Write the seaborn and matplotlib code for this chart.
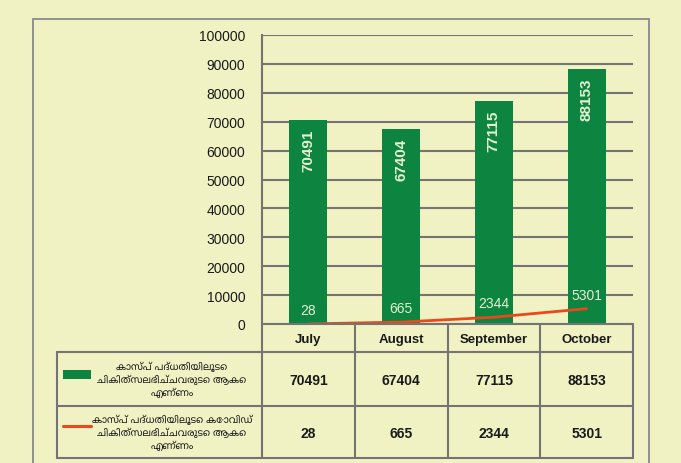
import matplotlib
matplotlib.use('Agg')
import matplotlib.pyplot as plt
import matplotlib.patches as mpatches
from matplotlib import font_manager
import numpy as np
import seaborn as sns

months = ['July', 'August', 'September', 'October']
total_treated = [70491, 67404, 77115, 88153]
covid_treated = [28, 665, 2344, 5301]
series_labels = [
	'കാസ്പ് പദ്ധതിയിലൂടെ\nചികിത്സലഭിച്ചവരുടെ ആകെ\nഎണ്ണം',
	'കാസ്പ് പദ്ധതിയിലൂടെ കോവിഡ്\nചികിത്സലഭിച്ചവരുടെ ആകെ\nഎണ്ണം',
]
y_ticks = [0, 10000, 20000, 30000, 40000, 50000, 60000, 70000, 80000, 90000, 100000]

BG = '#F0F2C4'
GREEN = '#0E8441'
RED = '#E8491D'
GRID = '#747474'
LABEL = '#E6F0D2'

sns.set_style('white')
installed = {f.name for f in font_manager.fontManager.ttflist}
base_font = 'Liberation Sans' if 'Liberation Sans' in installed else 'DejaVu Sans'
plt.rcParams['font.family'] = [base_font, 'DejaVu Sans']
ml_fonts = [f for f in ['Noto Sans Malayalam', 'Noto Serif Malayalam', 'Lohit Malayalam', 'Meera'] if f in installed]
ml_family = ml_fonts + [base_font, 'DejaVu Sans']

W, H = 681, 464
fig = plt.figure(figsize=(W / 100, H / 100), dpi=100, facecolor=BG)

def fx(px):
	return px / W

def fy(px):
	return 1 - px / H

# outer frame
fig.patches.append(mpatches.Rectangle((fx(33), fy(470)), fx(649) - fx(33), fy(20) - fy(470),
	transform=fig.transFigure, fill=False, edgecolor='#8a8a8a', linewidth=1.3))

# main chart
ax = fig.add_axes([fx(262), fy(325), fx(633) - fx(262), fy(36) - fy(325)])
ax.set_facecolor(BG)
sns.barplot(x=months, y=total_treated, color=GREEN, width=0.41, saturation=1,
	edgecolor='none', linewidth=0, ax=ax, zorder=3)
sns.lineplot(x=np.arange(len(months)), y=covid_treated, color=RED, linewidth=2, ax=ax, zorder=4)

ax.set_xlim(-0.5, len(months) - 0.5)
ax.set_ylim(0, 100000)
ax.set_yticks(y_ticks)
ax.set_yticklabels([str(v) for v in y_ticks], fontsize=10, color='#1a1a1a')
ax.set_xticks([])
ax.set_xlabel('')
ax.set_ylabel('')
ax.grid(axis='y', color=GRID, linewidth=1.5, zorder=0)
ax.set_axisbelow(True)
for side in ['top', 'right', 'bottom']:
	ax.spines[side].set_visible(False)
ax.spines['left'].set_color(GRID)
ax.spines['left'].set_linewidth(1.5)
ax.tick_params(axis='y', length=0, pad=12)

for i, v in enumerate(total_treated):
	ax.annotate(str(v), (i, v), xytext=(0, -6), textcoords='offset points',
		rotation=90, ha='center', va='top', color=LABEL, fontsize=11, fontweight='bold', zorder=5)
for i, v in enumerate(covid_treated):
	ax.annotate(str(v), (i, v), xytext=(0, 5), textcoords='offset points',
		ha='center', va='bottom', color=LABEL, fontsize=10, zorder=5)

# data table under the chart
tab = fig.add_axes([fx(57), fy(459), fx(633) - fx(57), fy(325) - fy(459)])
tab.set_facecolor('none')
unit = (633 - 262) / len(months)
left = -0.5 - (262 - 57) / unit
tab.set_xlim(left, len(months) - 0.5)
tab.set_ylim(134, 0)
tab.axis('off')
row_edges = [0, 28, 82, 134]
col_edges = [c - 0.5 for c in range(len(months) + 1)]
lw = 1.5
for c in col_edges:
	tab.plot([c, c], [0, 134], color=GRID, linewidth=lw, clip_on=False)
tab.plot([left, left], [28, 134], color=GRID, linewidth=lw, clip_on=False)
tab.plot([-0.5, col_edges[-1]], [0, 0], color=GRID, linewidth=lw, clip_on=False)
for r in row_edges[1:]:
	tab.plot([left, col_edges[-1]], [r, r], color=GRID, linewidth=lw, clip_on=False)

for i, m in enumerate(months):
	tab.text(i, 15, m, ha='center', va='center', fontsize=9.5, fontweight='bold', color='#1a1a1a')
for row, values in enumerate([total_treated, covid_treated]):
	yc = (row_edges[row + 1] + row_edges[row + 2]) / 2
	for i, v in enumerate(values):
		tab.text(i, yc + 1, str(v), ha='center', va='center', fontsize=10, fontweight='bold', color='#1a1a1a')
	tab.text(left + 1.24, yc, series_labels[row], ha='center', va='center', fontsize=7,
		fontweight='bold', color='#1a1a1a', family=ml_family, linespacing=1.3)

key_x0 = left + 6 / unit
key_w = 28 / unit
tab.add_patch(mpatches.Rectangle((key_x0, 46), key_w, 9, facecolor=GREEN, edgecolor='none'))
tab.plot([key_x0, key_x0 + key_w], [102, 102], color=RED, linewidth=2.2)

fig.savefig('out.png', dpi=100, facecolor=BG)
